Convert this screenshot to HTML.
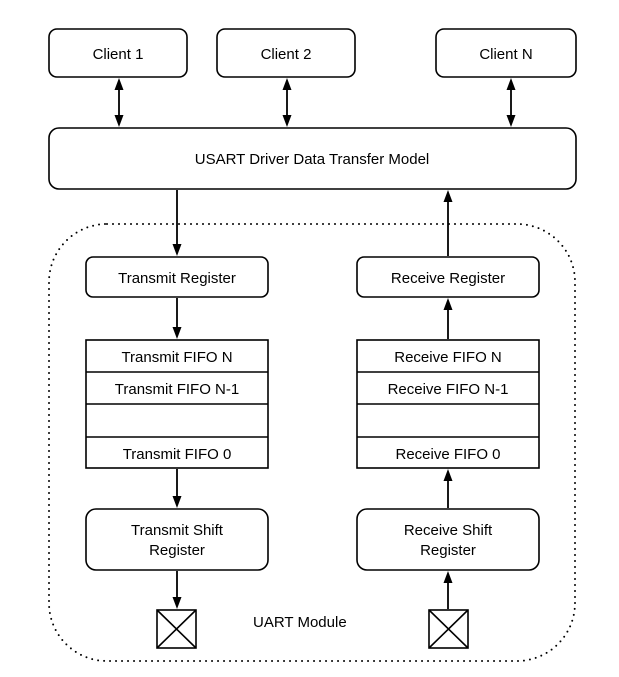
<!DOCTYPE html>
<html><head><style>html,body{margin:0;padding:0;background:#fff}svg{display:block}</style></head>
<body>
<svg width="619" height="677" viewBox="0 0 619 677" xmlns="http://www.w3.org/2000/svg" font-family="Liberation Sans, Arial, sans-serif" font-size="15" fill="#000">
<rect x="49" y="224" width="526" height="437" rx="58" ry="58" fill="none" stroke="#000" stroke-width="2" stroke-dasharray="0 6" stroke-linecap="round"/>
<g fill="#fff" stroke="#000" stroke-width="1.6">
<rect x="49" y="29" width="138" height="48" rx="8"/>
<rect x="217" y="29" width="138" height="48" rx="8"/>
<rect x="436" y="29" width="140" height="48" rx="8"/>
<rect x="49" y="128" width="527" height="61" rx="10"/>
<rect x="86" y="257" width="182" height="40" rx="7"/>
<rect x="357" y="257" width="182" height="40" rx="7"/>
<rect x="86" y="340" width="182" height="128"/>
<rect x="357" y="340" width="182" height="128"/>
<rect x="86" y="509" width="182" height="61" rx="10"/>
<rect x="357" y="509" width="182" height="61" rx="10"/>
<rect x="157" y="610" width="39" height="38"/>
<rect x="429" y="610" width="39" height="38"/>
</g>
<g stroke="#000" stroke-width="1.6" fill="none">
<line x1="86" y1="372" x2="268" y2="372"/><line x1="86" y1="404" x2="268" y2="404"/><line x1="86" y1="437" x2="268" y2="437"/>
<line x1="357" y1="372" x2="539" y2="372"/><line x1="357" y1="404" x2="539" y2="404"/><line x1="357" y1="437" x2="539" y2="437"/>
<path d="M157,610 L196,648 M196,610 L157,648 M429,610 L468,648 M468,610 L429,648"/>
<g stroke-width="1.8">
<line x1="119" y1="85" x2="119" y2="120"/>
<line x1="287" y1="85" x2="287" y2="120"/>
<line x1="511" y1="85" x2="511" y2="120"/>
<line x1="177" y1="190" x2="177" y2="248"/>
<line x1="177" y1="298" x2="177" y2="331"/>
<line x1="177" y1="469" x2="177" y2="500"/>
<line x1="177" y1="571" x2="177" y2="601"/>
<line x1="448" y1="256" x2="448" y2="198"/>
<line x1="448" y1="339" x2="448" y2="306"/>
<line x1="448" y1="508" x2="448" y2="477"/>
<line x1="448" y1="609" x2="448" y2="579"/>
</g>
</g>
<g fill="#000">
<!-- down heads: tip at y -->
<path d="M114.5,115 L123.5,115 L119,127 z M282.5,115 L291.5,115 L287,127 z M506.5,115 L515.5,115 L511,127 z"/>
<path d="M114.5,90 L123.5,90 L119,78 z M282.5,90 L291.5,90 L287,78 z M506.5,90 L515.5,90 L511,78 z"/>
<path d="M172.5,244 L181.5,244 L177,256 z M172.5,327 L181.5,327 L177,339 z M172.5,496 L181.5,496 L177,508 z M172.5,597 L181.5,597 L177,609 z"/>
<path d="M443.5,202 L452.5,202 L448,190 z M443.5,310 L452.5,310 L448,298 z M443.5,481 L452.5,481 L448,469 z M443.5,583 L452.5,583 L448,571 z"/>
</g>
<g text-anchor="middle">
<text x="118" y="59">Client 1</text>
<text x="286" y="59">Client 2</text>
<text x="506" y="59">Client N</text>
<text x="312" y="164">USART Driver Data Transfer Model</text>
<text x="177" y="283">Transmit Register</text>
<text x="448" y="283">Receive Register</text>
<text x="177" y="362">Transmit FIFO N</text>
<text x="177" y="394">Transmit FIFO N-1</text>
<text x="177" y="459">Transmit FIFO 0</text>
<text x="448" y="362">Receive FIFO N</text>
<text x="448" y="394">Receive FIFO N-1</text>
<text x="448" y="459">Receive FIFO 0</text>
<text x="177" y="535">Transmit Shift</text>
<text x="177" y="555">Register</text>
<text x="448" y="535">Receive Shift</text>
<text x="448" y="555">Register</text>
</g>
<text x="253" y="627">UART Module</text>
</svg>
</body></html>
